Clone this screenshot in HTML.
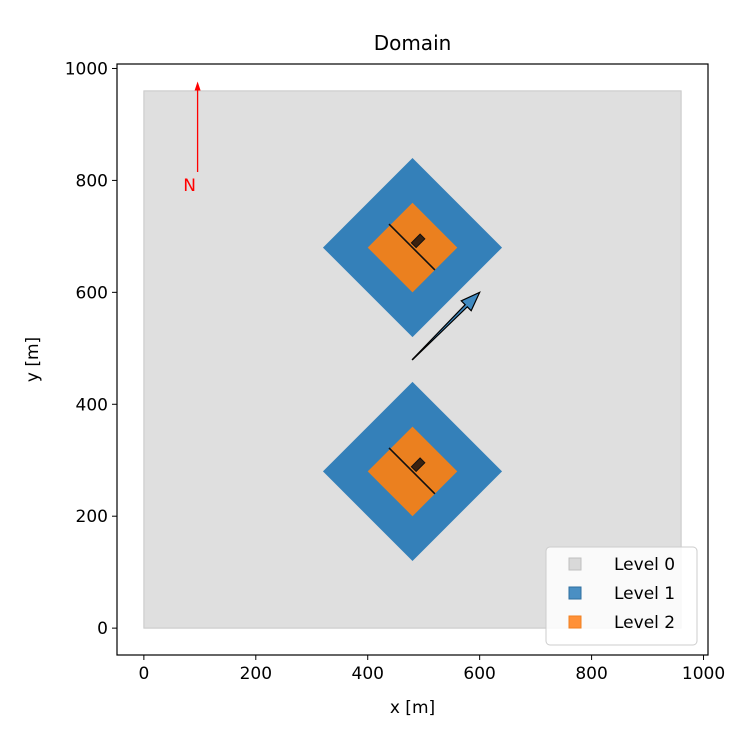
<!DOCTYPE html>
<html><head><meta charset="utf-8"><style>
body{margin:0;background:#fff;}
svg text{font-family:"DejaVu Sans","Liberation Sans",sans-serif;}
</style></head><body>
<svg id="c" width="750" height="750" xmlns="http://www.w3.org/2000/svg"></svg>
<script>
const xTicks=[0,200,400,600,800,1000];
const yTicks=[0,200,400,600,800,1000];
const domainExtent=[0,960];
const nestCenters=[[480,680],[480,280]];
const level1Half=[160];
const level2Half=[80];
const windArrow=[480,480,600,600];
const northArrow=[96,815,96,975];
const legendLabels=["Level 0","Level 1","Level 2"];
const legendColors=["#d9d9d9","#4a8fc3","#ff9138"];

const L=117,R=708,T=64,B=655,xmin=-48,xmax=1008,ymin=-48,ymax=1008;
const X=v=>L+(v-xmin)/(xmax-xmin)*(R-L);
const Y=v=>B-(v-ymin)/(ymax-ymin)*(B-T);
const svg=document.getElementById('c');
const NS='http://www.w3.org/2000/svg';
function mk(t,a,txt){const e=document.createElementNS(NS,t);for(const k in a)e.setAttribute(k,a[k]);if(txt!==undefined)e.textContent=txt;svg.appendChild(e);return e;}
function poly(pts){return pts.map(p=>X(p[0]).toFixed(2)+','+Y(p[1]).toFixed(2)).join(' ');}

let e=mk('rect',{x:X(domainExtent[0]),y:Y(domainExtent[1]),width:X(domainExtent[1])-X(domainExtent[0]),height:Y(domainExtent[0])-Y(domainExtent[1]),fill:'#dfdfdf',stroke:'#c8c8c8','stroke-width':1});



nestCenters.forEach((c,i)=>{
  const [cx,cy]=c;
  const h1=level1Half[0],h2=level2Half[0];
  let p=mk('polygon',{points:poly([[cx,cy+h1],[cx+h1,cy],[cx,cy-h1],[cx-h1,cy]]),fill:'#3480b9'});
  
  
  p=mk('polygon',{points:poly([[cx,cy+h2],[cx+h2,cy],[cx,cy-h2],[cx-h2,cy]]),fill:'#eb801f'});
  
  
  p=mk('line',{x1:X(cx-42),y1:Y(cy+42),x2:X(cx+40),y2:Y(cy-40),stroke:'#111','stroke-width':1.6});
  
  
  const bx=cx+10,by=cy+12,a=Math.SQRT1_2,w=11,d=6;
  const pts=[[-w,-d],[w,-d],[w,d],[-w,d]].map(q=>[bx+(q[0]*a-q[1]*a),by+(q[0]*a+q[1]*a)]);
  p=mk('polygon',{points:poly(pts),fill:'#3a2210',stroke:'#111','stroke-width':1});
  
  
});

{
  const [x1,y1,x2,y2]=windArrow;
  const px1=X(x1),py1=Y(y1),px2=X(x2),py2=Y(y2);
  const ang=Math.atan2(py2-py1,px2-px1),hl=19,hw=7,sw=1.5;
  const bxp=px2-hl*Math.cos(ang),byp=py2-hl*Math.sin(ang);
  const nx=-Math.sin(ang),ny=Math.cos(ang);
  let a=mk('polygon',{points:[[px1-nx*0.2,py1-ny*0.2],[bxp-nx*sw,byp-ny*sw],[bxp-nx*hw,byp-ny*hw],[px2,py2],[bxp+nx*hw,byp+ny*hw],[bxp+nx*sw,byp+ny*sw],[px1+nx*0.2,py1+ny*0.2]].map(q=>q.join(',')).join(' '),fill:'#3f89c0',stroke:'#000','stroke-width':1.2});
  
  
}
{
  const [x1,y1,x2,y2]=northArrow;
  let a=mk('line',{x1:X(x1),y1:Y(y1),x2:X(x2),y2:Y(y2)+6,stroke:'red','stroke-width':1.3});
  
  
  a=mk('polygon',{points:`${X(x2)},${Y(y2)-1} ${X(x2)-3},${Y(y2)+8} ${X(x2)+3},${Y(y2)+8}`,fill:'red'});
  
  
  a=mk('text',{x:X(x1)-8,y:Y(y1)+19,fill:'red','font-size':17,'text-anchor':'middle'},'N');
  
  
}

e=mk('rect',{x:L,y:T,width:R-L,height:B-T,fill:'none',stroke:'#000','stroke-width':1.2});


xTicks.forEach(t=>{
  let l=mk('line',{x1:X(t),y1:B,x2:X(t),y2:B+5,stroke:'#000','stroke-width':1});
  
  
  l=mk('text',{x:X(t),y:B+24,'font-size':17,'text-anchor':'middle'},String(t));
  
  
});
yTicks.forEach(t=>{
  let l=mk('line',{x1:L-5,y1:Y(t),x2:L,y2:Y(t),stroke:'#000','stroke-width':1});
  
  
  l=mk('text',{x:L-9,y:Y(t)+6,'font-size':17,'text-anchor':'end'},String(t));
  
  
});
e=mk('text',{x:(L+R)/2,y:713,'font-size':17,'text-anchor':'middle'},'x [m]');


e=mk('text',{x:0,y:0,'font-size':17,'text-anchor':'middle',transform:`translate(38,${(T+B)/2}) rotate(-90)`},'y [m]');


e=mk('text',{x:(L+R)/2,y:50,'font-size':20,'text-anchor':'middle'},'Domain');



e=mk('rect',{x:546,y:547,width:151,height:98,rx:4,fill:'#fff','fill-opacity':0.85,stroke:'#ccc','stroke-width':1});


legendLabels.forEach((lab,i)=>{
  const y=564+i*29;
  let r=mk('rect',{x:569,y:y-6,width:12,height:12,fill:legendColors[i],stroke:i==0?'#c0c0c0':(i==1?'#2f6f9f':'#f08020'),'stroke-width':1});
  
  
  r=mk('text',{x:614,y:y+6,'font-size':17},lab);
  
  
});
</script>
</body></html>
